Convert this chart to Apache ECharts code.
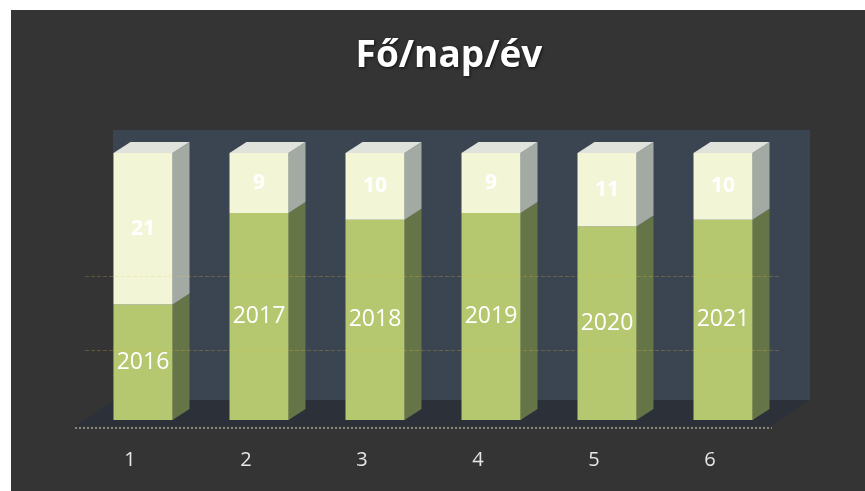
<!DOCTYPE html>
<html>
<head>
<meta charset="utf-8">
<script src="https://cdn.jsdelivr.net/npm/echarts@6/dist/echarts.min.js"></script>
<style>
    html, body { margin: 0; padding: 0; background: #ffffff; }
    #chart { width: 865px; height: 491px; }
</style>
</head>
<body>
<div id="chart"></div>
<script>
// data
var categories = ['1', '2', '3', '4', '5', '6'];
var years = ['2016', '2017', '2018', '2019', '2020', '2021'];
var lowerValues = [16, 31, 30, 31, 29, 30];
var upperValues = [21, 9, 10, 9, 11, 10];

var chart = echarts.init(document.getElementById('chart'));

// 100% stacked: turn counts into shares
var totals = lowerValues.map(function (v, i) { return v + upperValues[i]; });
var lowerPct = lowerValues.map(function (v, i) { return v / totals[i] * 100; });
var upperPct = upperValues.map(function (v, i) { return v / totals[i] * 100; });

var BAR_W = 59, DX = 17, DY = -11;

function renderSides(params, api) {
    var idx = api.value(0);
    var split = api.value(1);
    var base = api.coord([idx, 0]);
    var mid = api.coord([idx, split]);
    var top = api.coord([idx, 100]);
    var xl = base[0] - BAR_W / 2, xr = base[0] + BAR_W / 2;
    return {
        type: 'group',
        children: [
            { type: 'polygon', shape: { points: [[xr, base[1]], [xr + DX, base[1] + DY], [xr + DX, mid[1] + DY], [xr, mid[1]]] },
              style: { fill: '#667547' } },
            { type: 'polygon', shape: { points: [[xr, mid[1]], [xr + DX, mid[1] + DY], [xr + DX, top[1] + DY], [xr, top[1]]] },
              style: { fill: '#a3aaa4' } },
            { type: 'polygon', shape: { points: [[xl, top[1]], [xr, top[1]], [xr + DX, top[1] + DY], [xl + DX, top[1] + DY]] },
              style: { fill: '#dfe3dc' } }
        ]
    };
}

chart.setOption({
    backgroundColor: '#ffffff',
    animation: false,
    graphic: [
        { type: 'rect', z: -10, shape: { x: 11, y: 10, width: 854, height: 481 }, style: { fill: '#343434' } },
        { type: 'rect', z: -9, shape: { x: 113, y: 130, width: 697, height: 270 }, style: { fill: '#3b4451' } },
        { type: 'polygon', z: -9, shape: { points: [[113, 400], [810, 400], [772, 426], [75, 426]] }, style: { fill: '#2c3139' } },
        { type: 'line', z: -8, shape: { x1: 75, y1: 428, x2: 772, y2: 428 },
          style: { stroke: '#a0a0a0', lineWidth: 1.5, lineDash: [2, 2] } }
    ],
    title: {
        text: 'Fő/nap/év',
        left: 444,
        textAlign: 'center',
        top: 33,
        textStyle: {
            color: '#ffffff', fontSize: 37, fontWeight: 'bold', fontFamily: 'Open Sans',
            textShadowColor: 'rgba(0,0,0,0.7)', textShadowBlur: 3, textShadowOffsetX: 1, textShadowOffsetY: 1
        }
    },
    grid: { left: 85, width: 696, top: 153, bottom: 71 },
    xAxis: {
        type: 'category',
        data: categories,
        axisLine: { show: false },
        axisTick: { show: false },
        axisLabel: { color: '#e6e6e6', fontSize: 20, fontFamily: 'Open Sans', margin: 30, padding: [0, 26, 0, 0] }
    },
    yAxis: { type: 'value', min: 0, max: 100, show: false, splitLine: { show: false } },
    series: [
        {
            name: 'lower',
            type: 'bar',
            stack: 'total',
            barWidth: BAR_W,
            data: lowerPct,
            itemStyle: { color: '#b6c86f' },
            label: {
                show: true, position: 'inside', color: '#ffffff', fontSize: 23, fontFamily: 'Open Sans',
                formatter: function (p) { return years[p.dataIndex]; }
            },
            markLine: {
                silent: true, symbol: 'none', label: { show: false },
                lineStyle: { color: 'rgba(230,200,60,0.25)', type: 'dashed', width: 1 },
                data: [{ yAxis: 26 }, { yAxis: 54 }]
            }
        },
        {
            name: 'upper',
            type: 'bar',
            stack: 'total',
            barWidth: BAR_W,
            data: upperPct,
            itemStyle: { color: '#f2f6d6' },
            label: {
                show: true, position: 'inside', color: '#ffffff', fontSize: 21, fontFamily: 'Open Sans', fontWeight: 'bold',
                formatter: function (p) { return upperValues[p.dataIndex]; }
            }
        },
        {
            type: 'custom',
            renderItem: renderSides,
            data: lowerPct.map(function (v, i) { return [i, v]; }),
            z: 1
        }
    ]
});
</script>
</body>
</html>
